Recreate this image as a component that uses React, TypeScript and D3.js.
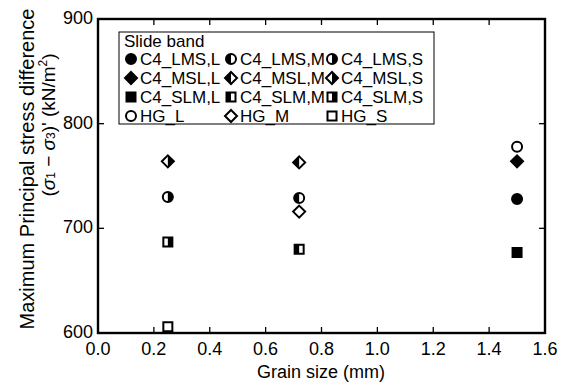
import React, { useEffect, useRef } from 'react';
import * as d3 from 'd3';

// grain size for each size class (mm)
const sizeClasses = ['L', 'M', 'S'];
const grainSizes = [1.5, 0.72, 0.25];

const bands = ['C4_LMS', 'C4_MSL', 'C4_SLM', 'HG'];
const bandShapes = ['circle', 'diamond', 'square', 'circle'];
// values in the order L, M, S
const lmsValues = [728, 729, 730];
const mslValues = [764, 763, 764];
const slmValues = [677, 680, 687];
const hgValues = [778, 716, 606];
const hgShapes = ['circle', 'diamond', 'square'];

const xTicks = [0, 0.2, 0.4, 0.6, 0.8, 1.0, 1.2, 1.4, 1.6];
const yTicks = [600, 700, 800, 900];

const shapePath = (shape: string) => {
  if (shape === 'circle') return d3.symbol(d3.symbolCircle, Math.PI * 5 * 5)()!;
  if (shape === 'diamond') return 'M0,-6L6,0L0,6L-6,0Z';
  return 'M-4.5,-4.5L4.5,-4.5L4.5,4.5L-4.5,4.5Z';
};

const App: React.FC = () => {
  const ref = useRef<SVGSVGElement | null>(null);

  useEffect(() => {
    const svg = d3.select(ref.current);
    svg.selectAll('*').remove();
    const font = 'Arial, "Liberation Sans", sans-serif';

    const left = 98, right = 545, top = 19, bottom = 333;
    const x = d3.scaleLinear().domain([0, 1.6]).range([left, right]);
    const y = d3.scaleLinear().domain([600, 900]).range([bottom, top]);

    svg.append('rect').attr('width', 563).attr('height', 387).attr('fill', 'white');

    const defs = svg.append('defs');
    defs.append('clipPath').attr('id', 'half-left').attr('clipPathUnits', 'userSpaceOnUse')
      .append('rect').attr('x', -10).attr('y', -10).attr('width', 10).attr('height', 20);
    defs.append('clipPath').attr('id', 'half-right').attr('clipPathUnits', 'userSpaceOnUse')
      .append('rect').attr('x', 0).attr('y', -10).attr('width', 10).attr('height', 20);

    // fill: 'full' | 'left' | 'right' | 'none'
    const drawMarker = (g: d3.Selection<SVGGElement, unknown, null, undefined>, cx: number, cy: number, shape: string, fill: string) => {
      const m = g.append('g').attr('transform', `translate(${cx},${cy})`);
      const p = shapePath(shape);
      m.append('path').attr('d', p).attr('fill', fill === 'full' ? 'black' : 'white');
      if (fill === 'left' || fill === 'right') {
        m.append('path').attr('d', p).attr('fill', 'black').attr('clip-path', `url(#half-${fill})`);
      }
      m.append('path').attr('d', p).attr('fill', 'none').attr('stroke', 'black').attr('stroke-width', 2);
    };

    // ticks (inward, all four sides)
    const axes = svg.append('g').attr('stroke', 'black').attr('stroke-width', 1.3);
    xTicks.forEach(t => {
      axes.append('line').attr('x1', x(t)).attr('x2', x(t)).attr('y1', bottom).attr('y2', bottom - 6);
      axes.append('line').attr('x1', x(t)).attr('x2', x(t)).attr('y1', top).attr('y2', top + 6);
    });
    yTicks.forEach(t => {
      axes.append('line').attr('x1', left).attr('x2', left + 6).attr('y1', y(t)).attr('y2', y(t));
      axes.append('line').attr('x1', right).attr('x2', right - 6).attr('y1', y(t)).attr('y2', y(t));
    });
    svg.append('rect').attr('x', left).attr('y', top).attr('width', right - left).attr('height', bottom - top)
      .attr('fill', 'none').attr('stroke', 'black').attr('stroke-width', 2.4);

    svg.append('g').selectAll('text').data(xTicks).enter().append('text')
      .attr('x', d => x(d)).attr('y', 355).attr('text-anchor', 'middle')
      .style('font-family', font).style('font-size', '18px').text(d => d.toFixed(1));
    svg.append('g').selectAll('text').data(yTicks).enter().append('text')
      .attr('x', 93).attr('y', d => y(d) + 5).attr('text-anchor', 'end')
      .style('font-family', font).style('font-size', '18px').text(d => d);

    svg.append('text').attr('x', 321).attr('y', 378).attr('text-anchor', 'middle')
      .style('font-family', font).style('font-size', '18px').text('Grain size (mm)');

    svg.append('text').attr('transform', 'translate(34,169) rotate(-90)').attr('text-anchor', 'middle')
      .style('font-family', font).style('font-size', '20px').text('Maximum Principal stress difference');
    const t2 = svg.append('text').attr('transform', 'translate(55,125) rotate(-90)').attr('text-anchor', 'middle')
      .style('font-family', font).style('font-size', '19px');
    t2.append('tspan').text('(');
    t2.append('tspan').style('font-style', 'italic').text('σ');
    t2.append('tspan').attr('font-size', '12px').text('1');
    t2.append('tspan').text(' − ');
    t2.append('tspan').style('font-style', 'italic').text('σ');
    t2.append('tspan').attr('font-size', '12px').text('3');
    t2.append('tspan').text(')\' (kN/m');
    t2.append('tspan').attr('font-size', '12px').attr('dy', -8).text('2');
    t2.append('tspan').attr('dy', 8).text(')');

    // data
    const allValues = [lmsValues, mslValues, slmValues, hgValues];
    const fills = ['full', 'left', 'right'];
    const pts = svg.append('g');
    allValues.forEach((vals, bi) => {
      vals.forEach((v, si) => {
        const shape = bi === 3 ? hgShapes[si] : bandShapes[bi];
        const fill = bi === 3 ? 'none' : fills[si];
        drawMarker(pts, x(grainSizes[si]), y(v), shape, fill);
      });
    });

    // legend
    const lg = svg.append('g');
    lg.append('rect').attr('x', 119).attr('y', 32).attr('width', 315).attr('height', 92)
      .attr('fill', 'white').attr('stroke', 'black').attr('stroke-width', 1);
    lg.append('text').attr('x', 124).attr('y', 47).style('font-family', font).style('font-size', '17px').text('Slide band');
    const colX = [131, 231, 332];
    bands.forEach((b, bi) => {
      const ry = 59 + bi * 19;
      sizeClasses.forEach((s, si) => {
        const shape = bi === 3 ? hgShapes[si] : bandShapes[bi];
        const fill = bi === 3 ? 'none' : fills[si];
        drawMarker(lg, colX[si], ry, shape, fill);
        lg.append('text').attr('x', colX[si] + 9).attr('y', ry + 6)
          .style('font-family', font).style('font-size', '17px')
          .text(bi === 3 ? `${b}_${s}` : `${b},${s}`);
      });
    });
  }, []);

  return <svg ref={ref} width={563} height={387} style={{ position: 'absolute', left: 0, top: 0 }} />;
};

export default App;
